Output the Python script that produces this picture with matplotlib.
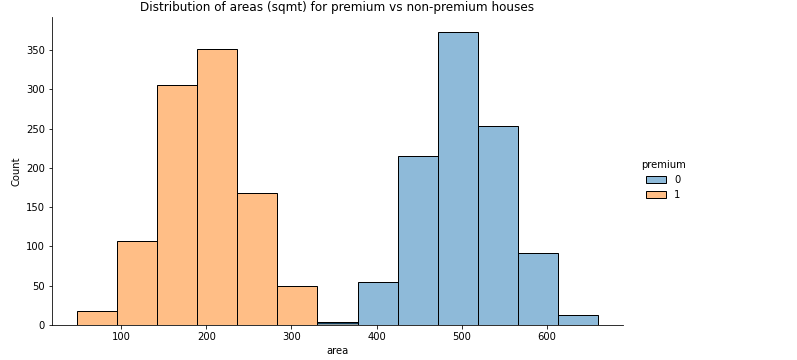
import numpy as np
import pandas as pd
import matplotlib
matplotlib.use("Agg")
import matplotlib.pyplot as plt
import seaborn as sns

# bin edges (13 bins, ~47 sqmt wide)
area_min, area_max, n_bins = 48, 660, 13
edges = np.linspace(area_min, area_max, n_bins + 1)
centers = (edges[:-1] + edges[1:]) / 2

# counts per bin
counts_premium = [18, 107, 305, 351, 168, 50, 2, 0, 0, 0, 0, 0, 0]
counts_normal = [0, 0, 0, 0, 0, 0, 4, 55, 215, 373, 253, 92, 13]

df = pd.DataFrame({
    "area": np.concatenate([centers, centers]),
    "count": counts_normal + counts_premium,
    "premium": [0] * 13 + [1] * 13,
})

fig = plt.figure(figsize=(797 / 72, 360 / 72), dpi=72)
ax = fig.add_axes([52 / 797, 35 / 360, 571 / 797, 308 / 360])

sns.histplot(data=df, x="area", weights="count", hue="premium",
             bins=n_bins, binrange=(area_min, area_max), ax=ax, hue_order=[0, 1],
             edgecolor="black", linewidth=1)
sns.despine(ax=ax)

ax.set_ylim(0, 392)
ax.set_xlim(19, 689)
ax.set_ylabel("Count")
ax.set_xlabel("area")
ax.set_title("Distribution of areas (sqmt) for premium vs non-premium houses", fontsize=12)

sns.move_legend(ax, "center left", bbox_to_anchor=(632 / 797, 0.5),
                bbox_transform=fig.transFigure, frameon=False, title="premium")

fig.savefig("out.png", dpi=72)
